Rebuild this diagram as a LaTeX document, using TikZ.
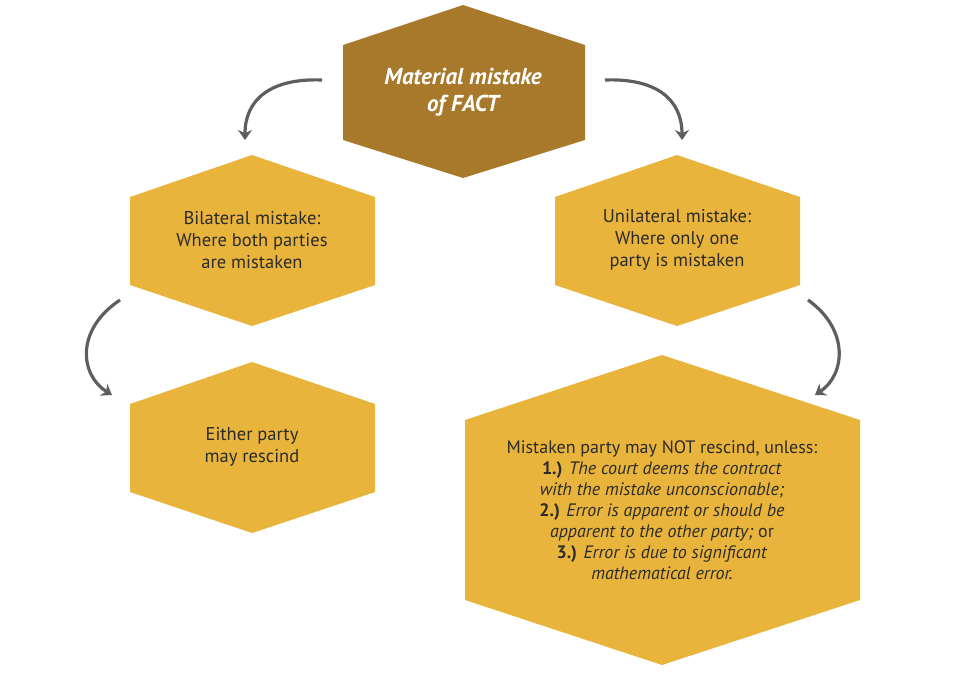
\documentclass[tikz,border=0pt]{standalone}
\usepackage{fontspec}
\setmainfont{PT Sans}
\usetikzlibrary{arrows.meta}
\definecolor{gold}{HTML}{E9B43C}
\definecolor{dgold}{HTML}{A8792A}
\definecolor{txt}{HTML}{2B2B2B}
\definecolor{arr}{HTML}{5E5E5E}
\tikzset{
  lbl/.style={align=center,text=txt,font=\fontsize{18.5}{22}\selectfont},
  curv/.style={draw=arr,line width=3.2pt,-{Stealth[length=10pt,width=14pt]}}
}
\begin{document}
\begin{tikzpicture}[x=1pt,y=-1pt]
\useasboundingbox (0,0) rectangle (958,690);
% hexagons
\fill[dgold] (463,5) -- (585,45) -- (585,140) -- (463,178) -- (343,140) -- (343,45) -- cycle;
\fill[gold] (252,155) -- (375,197) -- (375,285) -- (252,326) -- (130,285) -- (130,197) -- cycle;
\fill[gold] (677,155) -- (800,197) -- (800,285) -- (677,326) -- (555,285) -- (555,197) -- cycle;
\fill[gold] (252,362) -- (375,404) -- (375,492) -- (252,533) -- (130,492) -- (130,404) -- cycle;
\fill[gold] (662,355) -- (860,420) -- (860,600) -- (662,665) -- (465,600) -- (465,420) -- cycle;
% texts
\node[align=center,text=white,font=\fontsize{23}{27}\selectfont\bfseries\itshape] (top) at (463,92) {Material mistake\\of FACT};
\node[lbl] (bil) at (252,240) {Bilateral mistake:\\Where both parties\\are mistaken};
\node[lbl] (uni) at (677,240) {Unilateral mistake:\\Where only one\\party is mistaken};
\node[lbl] (eith) at (252,447) {Either party\\may rescind};
\node[lbl,font=\fontsize{18}{21}\selectfont] (big) at (662,510) {Mistaken party may NOT rescind, unless:\\\textbf{1.)} \textit{The court deems the contract}\\\textit{with the mistake unconscionable;}\\\textbf{2.)} \textit{Error is apparent or should be}\\\textit{apparent to the other party;} or\\\textbf{3.)} \textit{Error is due to significant}\\\textit{mathematical error.}};
% arrows
\coordinate (a1) at (322,80); \coordinate (a1e) at (245,140);
\coordinate (a2) at (605,80); \coordinate (a2e) at (682,140);
\coordinate (a3) at (120,300); \coordinate (a3e) at (112,395);
\coordinate (a4) at (808,300); \coordinate (a4e) at (815,395);
\draw[curv] (a1) .. controls (270,78) and (245,100) .. (a1e);
\draw[curv] (a2) .. controls (657,78) and (682,100) .. (a2e);
\draw[curv] (a3) .. controls (75,330) and (80,375) .. (a3e);
\draw[curv] (a4) .. controls (850,330) and (845,375) .. (a4e);
\end{tikzpicture}
\end{document}
